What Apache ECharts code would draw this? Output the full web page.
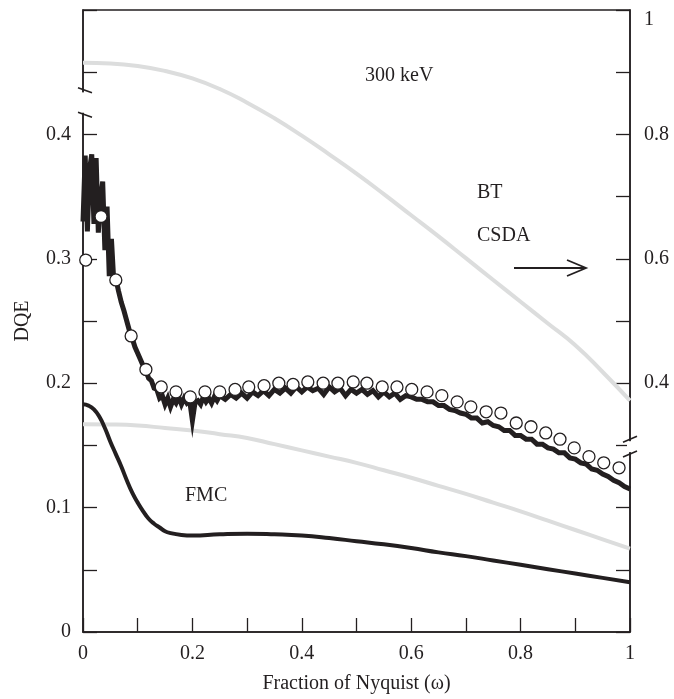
<!DOCTYPE html>
<html><head><meta charset="utf-8">
<script src="https://cdn.jsdelivr.net/npm/echarts@6/dist/echarts.min.js"></script>
<style>html,body{margin:0;padding:0;background:#fff}#c{width:674px;height:699px}</style>
</head><body><div id="c"></div>
<script>
// ---- tick labels ----
const xTickLabels = ['0','0.2','0.4','0.6','0.8','1'];
const leftTickLabels = ['0','0.1','0.2','0.3','0.4'];
const rightTickLabels = ['0.4','0.6','0.8','1'];

// ---- noisy measured DQE (left axis) ----
const dqeX = [0,0.004,0.008,0.012,0.016,0.020,0.024,0.028,0.032,0.036,0.040,0.044,0.048,0.052,0.056,0.060,0.065,0.070,0.075,0.080,0.085,0.090,0.095,0.100,0.105,0.110,0.115,0.120,0.125,0.130,0.135,0.140,0.145,0.150,0.155,0.160,0.165,0.170,0.175,0.180,0.185,0.190,0.195,0.200,0.205,0.210,0.215,0.220,0.225,0.230,0.235,0.240,0.245,0.250,
  0.26,0.27,0.28,0.29,0.30,0.31,0.32,0.33,0.34,0.35,0.36,0.37,0.38,0.39,0.40,0.41,0.42,0.43,0.44,0.45,0.46,0.47,0.48,0.49,0.50,0.51,0.52,0.53,0.54,0.55,0.56,0.57,0.58,0.59,
  0.60,0.61,0.62,0.63,0.64,0.65,0.66,0.67,0.68,0.69,0.70,0.71,0.72,0.73,0.74,0.75,0.76,0.77,0.78,0.79,0.80,0.81,0.82,0.83,0.84,0.85,0.86,0.87,0.88,0.89,0.90,0.91,0.92,0.93,0.94,0.95,0.96,0.97,0.98,0.99,1.00];
const dqeY = [0.330,0.383,0.322,0.372,0.384,0.328,0.381,0.321,0.348,0.362,0.307,0.342,0.286,0.316,0.284,0.284,0.274,0.265,0.258,0.250,0.242,0.236,0.229,0.224,0.219,0.214,0.210,0.204,0.202,0.196,0.195,0.188,0.190,0.183,0.188,0.181,0.187,0.184,0.189,0.183,0.188,0.184,0.186,0.170,0.185,0.186,0.183,0.189,0.185,0.188,0.184,0.189,0.186,0.190,
  0.187,0.191,0.188,0.192,0.188,0.193,0.190,0.194,0.190,0.195,0.192,0.196,0.192,0.197,0.193,0.197,0.194,0.196,0.191,0.197,0.193,0.196,0.190,0.195,0.192,0.195,0.191,0.194,0.189,0.193,0.189,0.192,0.187,0.190,
  0.189,0.187,0.187,0.185,0.185,0.182,0.182,0.179,0.178,0.176,0.175,0.172,0.172,0.168,0.169,0.166,0.165,0.162,0.162,0.158,0.158,0.155,0.155,0.151,0.151,0.148,0.147,0.144,0.144,0.140,0.139,0.136,0.135,0.131,0.130,0.127,0.125,0.122,0.120,0.117,0.115];

// ---- open circles (left axis) ----
const circX = [0.005,0.033,0.060,0.088,0.115,0.143,0.170,0.196,0.223,0.250,0.278,0.303,0.331,0.358,0.384,0.411,0.439,0.466,0.494,0.519,0.547,0.574,0.601,0.629,0.656,0.684,0.709,0.737,0.764,0.792,0.819,0.846,0.872,0.898,0.925,0.952,0.980];
const circY = [0.299,0.334,0.283,0.238,0.211,0.197,0.193,0.189,0.193,0.193,0.195,0.197,0.198,0.200,0.199,0.201,0.200,0.200,0.201,0.200,0.197,0.197,0.195,0.193,0.190,0.185,0.181,0.177,0.176,0.168,0.165,0.160,0.155,0.148,0.141,0.136,0.132];

// ---- FMC (left axis) ----
const fmcX = [0,0.01,0.02,0.03,0.04,0.05,0.06,0.07,0.08,0.09,0.10,0.11,0.12,0.13,0.14,0.15,0.16,0.18,0.20,0.25,0.30,0.35,0.40,0.45,0.50,0.55,0.60,0.65,0.70,0.75,0.80,0.85,0.90,0.95,1.00];
const fmcY = [0.183,0.182,0.179,0.173,0.164,0.153,0.143,0.133,0.122,0.112,0.104,0.097,0.091,0.087,0.084,0.081,0.0795,0.078,0.0775,0.0785,0.079,0.0785,0.0775,0.0755,0.073,0.0705,0.0675,0.064,0.061,0.0575,0.054,0.0505,0.047,0.0435,0.040];

// ---- lower gray curve (left axis) ----
const lowX = [0,0.05,0.10,0.15,0.20,0.25,0.30,0.35,0.40,0.45,0.50,0.55,0.60,0.65,0.70,0.75,0.80,0.85,0.90,0.95,1.00];
const lowY = [0.167,0.1668,0.166,0.164,0.162,0.159,0.156,0.151,0.146,0.141,0.136,0.130,0.124,0.1175,0.111,0.104,0.097,0.0895,0.082,0.0745,0.067];

// ---- upper gray curve (right axis) ----
const upX = [0,0.05,0.10,0.15,0.20,0.25,0.30,0.35,0.40,0.45,0.50,0.55,0.60,0.65,0.70,0.75,0.80,0.85,0.90,0.95,1.00];
const upY = [0.915,0.914,0.910,0.902,0.890,0.873,0.851,0.826,0.798,0.768,0.737,0.704,0.670,0.636,0.601,0.566,0.531,0.496,0.461,0.418,0.372];

const zip = (a,b) => a.map((v,i)=>[v,b[i]]);
const FONT = '"Liberation Serif", "Times New Roman", serif';
const INK = '#231f20';
const GRAY = '#dcdddd';
const fmt = (v, list) => { const s = String(+(+v).toFixed(3)); return list.includes(s) ? s : ''; };

const chart = echarts.init(document.getElementById('c'));
chart.setOption({
  animation: false,
  backgroundColor: '#fff',
  grid: { left: 83, right: 44, top: 10, bottom: 66, show: true, borderColor: INK, borderWidth: 1.5, backgroundColor: 'transparent' },
  xAxis: {
    type: 'value', min: 0, max: 1, interval: 0.1,
    name: 'Fraction of Nyquist (ω)', nameLocation: 'middle', nameGap: 42,
    nameTextStyle: { fontFamily: FONT, fontSize: 20, color: INK },
    axisLine: { lineStyle: { color: INK, width: 1.5 } },
    axisTick: { inside: true, length: 14, lineStyle: { color: INK, width: 1.3 } },
    axisLabel: { margin: 12, fontFamily: FONT, fontSize: 20, color: INK, formatter: v => fmt(v, xTickLabels) },
    splitLine: { show: false }
  },
  yAxis: [{
    type: 'value', min: 0, max: 0.5, interval: 0.05, position: 'left',
    name: 'DQE', nameLocation: 'middle', nameGap: 50,
    nameTextStyle: { fontFamily: FONT, fontSize: 20, color: INK },
    axisLine: { show: true, lineStyle: { color: INK, width: 1.5 } },
    axisTick: { inside: true, length: 14, lineStyle: { color: INK, width: 1.3 } },
    axisLabel: { margin: 12, fontFamily: FONT, fontSize: 20, color: INK, formatter: v => fmt(v, leftTickLabels) },
    splitLine: { show: false }
  }, {
    type: 'value', min: 0, max: 1, interval: 0.1, position: 'right',
    axisLine: { show: true, lineStyle: { color: INK, width: 1.5 } },
    axisTick: { inside: true, length: 14, lineStyle: { color: INK, width: 1.3 } },
    axisLabel: { margin: 14, fontFamily: FONT, fontSize: 20, color: INK, verticalAlignMaxLabel: 'top', formatter: v => fmt(v, rightTickLabels) },
    splitLine: { show: false }
  }],
  series: [
    { name: 'upper', type: 'line', yAxisIndex: 1, data: zip(upX, upY), smooth: true, showSymbol: false, lineStyle: { color: GRAY, width: 4 }, z: 1 },
    { name: 'lower', type: 'line', yAxisIndex: 0, data: zip(lowX, lowY), smooth: true, showSymbol: false, lineStyle: { color: GRAY, width: 4 }, z: 1 },
    { name: 'FMC', type: 'line', yAxisIndex: 0, data: zip(fmcX, fmcY), smooth: true, showSymbol: false, lineStyle: { color: INK, width: 4 }, z: 2 },
    { name: 'measured', type: 'line', yAxisIndex: 0, data: zip(dqeX, dqeY), smooth: false, showSymbol: false, lineStyle: { color: INK, width: 5, join: 'miter' }, z: 3 },
    { name: 'circles', type: 'scatter', yAxisIndex: 0, data: zip(circX, circY), symbol: 'circle', symbolSize: 12, itemStyle: { color: '#ffffff', opacity: 1, borderColor: INK, borderWidth: 1.3 }, z: 4 }
  ]
});

// ---- decorations: axis breaks, annotations ----
const yL = v => chart.convertToPixel({ yAxisIndex: 0 }, v);
const yR = v => chart.convertToPixel({ yAxisIndex: 1 }, v);
const axL = chart.convertToPixel({ xAxisIndex: 0 }, 0);
const axR = chart.convertToPixel({ xAxisIndex: 0 }, 1);
const lb1 = yL(0.4354), lb2 = yL(0.4158);
const rb1 = yR(0.310), rb2 = yR(0.286);
const ls = { stroke: INK, lineWidth: 1.6 };
const txt = (t, x, y) => ({ type: 'text', x, y, z: 100, style: { text: t, font: '20px ' + FONT, fill: INK, align: 'left', verticalAlign: 'middle' } });
chart.setOption({
  graphic: [
    { type: 'rect', z: 90, shape: { x: axL - 3, y: lb1 + 2, width: 6, height: lb2 - lb1 - 4 }, style: { fill: '#fff' } },
    { type: 'line', z: 91, shape: { x1: axL - 5, y1: lb1 - 2.5, x2: axL + 9, y2: lb1 + 2.5 }, style: ls },
    { type: 'line', z: 91, shape: { x1: axL - 5, y1: lb2 - 2.5, x2: axL + 9, y2: lb2 + 2.5 }, style: ls },
    { type: 'rect', z: 90, shape: { x: axR - 3, y: rb1 + 2, width: 6, height: rb2 - rb1 - 4 }, style: { fill: '#fff' } },
    { type: 'line', z: 91, shape: { x1: axR - 7, y1: rb1 + 3, x2: axR + 7, y2: rb1 - 3 }, style: ls },
    { type: 'line', z: 91, shape: { x1: axR - 7, y1: rb2 + 3, x2: axR + 7, y2: rb2 - 3 }, style: ls },
    txt('300 keV', 365, 76),
    txt('BT', 477, 193),
    txt('CSDA', 477, 236),
    txt('FMC', 185, 496),
    { type: 'line', z: 100, shape: { x1: 514, y1: 268, x2: 585, y2: 268 }, style: { stroke: INK, lineWidth: 1.8 } },
    { type: 'polyline', z: 100, shape: { points: [[567, 260], [586, 268], [567, 276]] }, style: { stroke: INK, lineWidth: 1.8, fill: null } }
  ]
});
</script>
</body></html>
